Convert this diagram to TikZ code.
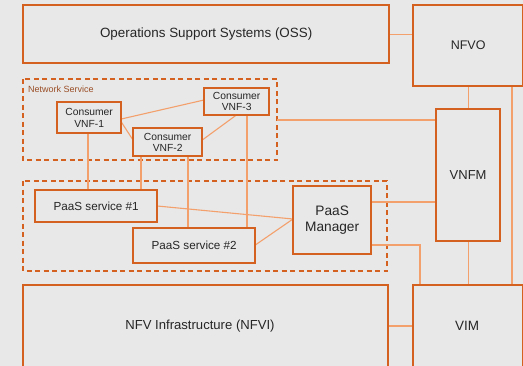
\documentclass[tikz,border=0pt]{standalone}
\usepackage{fontspec}
\setmainfont{Liberation Sans}
\definecolor{boxorange}{HTML}{D4611F}
\definecolor{linkorange}{HTML}{F4A06C}
\definecolor{bggray}{HTML}{E8E8E8}
\definecolor{labelbrown}{HTML}{9A4E26}
\begin{document}
\begin{tikzpicture}[x=1pt,y=-1pt,
  boxline/.style={draw=boxorange,line width=1.3pt},
  blk/.style={boxline,fill=bggray,inner sep=0pt,font=\fontsize{12.5}{14}\selectfont,align=center,text=black!85},
  vnf/.style={boxline,fill=bggray,inner sep=0pt,font=\fontsize{10.3}{11.5}\selectfont,align=center,text=black!85},
  svc/.style={blk,font=\fontsize{11.7}{14}\selectfont},
  grp/.style={draw=boxorange,line width=1.3pt,dash pattern=on 5pt off 3.5pt},
  link/.style={draw=linkorange,line width=1.1pt}]
% canvas
\useasboundingbox (0,0) rectangle (523,365);
\clip (-4,-4) rectangle (527,369);
\fill[bggray] (-4,-4) rectangle (527,369);

% group frames
\coordinate (nsnw) at (23,79);
\coordinate (nsse) at (277,160);
\coordinate (pgnw) at (23,181);
\coordinate (pgse) at (387,271);
\draw[grp] (nsnw) rectangle (nsse);
\draw[grp] (pgnw) rectangle (pgse);
\node[anchor=west,inner sep=0pt,font=\fontsize{9}{10}\selectfont,text=labelbrown] (nslabel) at (28,89) {Network Service};

% main blocks
\node[blk,minimum width=365pt,minimum height=57pt,anchor=north west,font=\fontsize{13.4}{15}\selectfont] (oss) at (23,5) {Operations Support Systems (OSS)};
\node[blk,minimum width=109pt,minimum height=80pt,anchor=north west] (nfvo) at (413,5) {NFVO};
\node[blk,minimum width=63pt,minimum height=131pt,anchor=north west,font=\fontsize{13}{15}\selectfont] (vnfm) at (436,109) {VNFM};
\node[blk,minimum width=364pt,minimum height=90pt,anchor=north west] (nfvi) at (23,285) {};
\node[font=\fontsize{13.1}{15}\selectfont,text=black!85] (nfvitext) at (200,326) {NFV Infrastructure (NFVI)};
\node[blk,minimum width=109pt,minimum height=90pt,anchor=north west] (vim) at (413,285) {};
\node[font=\fontsize{13.5}{15}\selectfont,text=black!85] (vimtext) at (467,326) {VIM};

% consumer VNFs
\node[vnf,minimum width=63pt,minimum height=30pt,anchor=north west] (v1) at (57,102) {Consumer\\VNF-1};
\node[vnf,minimum width=68pt,minimum height=27pt,anchor=north west] (v2) at (133,128) {Consumer\\VNF-2};
\node[vnf,minimum width=64pt,minimum height=26pt,anchor=north west] (v3) at (204,88) {Consumer\\VNF-3};

% PaaS nodes
\node[svc,minimum width=121pt,minimum height=31pt,anchor=north west] (p1) at (35,190) {PaaS service \#1};
\node[svc,minimum width=121pt,minimum height=34pt,anchor=north west] (p2) at (133,228) {PaaS service \#2};
\node[blk,minimum width=77pt,minimum height=67pt,anchor=north west,font=\fontsize{13.7}{16.5}\selectfont] (pm) at (293,186) {PaaS\\Manager};

% bend point of the manager-to-VIM link
\coordinate (pmcorner) at (420,245);

% connectors
\draw[link] (oss.east) -- (nfvo.west |- oss.east);
\draw[link] (v1.east |- 0,119) -- (v3.west |- 0,100);
\draw[link] (v1.east |- 0,122) -- (v2.west |- 0,140);
\draw[link] (v2.east |- 0,140) -- (v3.south -| 236,0);
\draw[link] (v1.south -| 88,0) -- (p1.north -| 88,0);
\draw[link] (v2.south -| 141,0) -- (p1.north -| 141,0);
\draw[link] (v2.south -| 188,0) -- (p2.north -| 188,0);
\draw[link] (v3.south -| 247,0) -- (p2.north -| 247,0);
\draw[link] (p1.east |- 0,206) -- (pm.west |- 0,219);
\draw[link] (p2.east |- 0,245) -- (pm.west |- 0,219);
\draw[link] (nsse |- 0,120) -- (vnfm.west |- 0,120);
\draw[link] (pm.east |- 0,202) -- (vnfm.west |- 0,202);
\draw[link] (pm.east |- pmcorner) -- (pmcorner) -- (vim.north -| pmcorner);
\draw[link] (nfvo.south) -- (vnfm.north);
\draw[link] (vnfm.south) -- (vim.north -| vnfm.south);
\draw[link] (nfvo.south -| 512,0) -- (vim.north -| 512,0);
\draw[link] (nfvi.east |- nfvitext) -- (vim.west |- nfvitext);

% borders drawn again over the connector ends
\foreach \b in {oss,nfvo,vnfm,vim,nfvi,v1,v2,v3,p1,p2,pm}
  \draw[boxline] (\b.north west) rectangle (\b.south east);
\end{tikzpicture}
\end{document}
